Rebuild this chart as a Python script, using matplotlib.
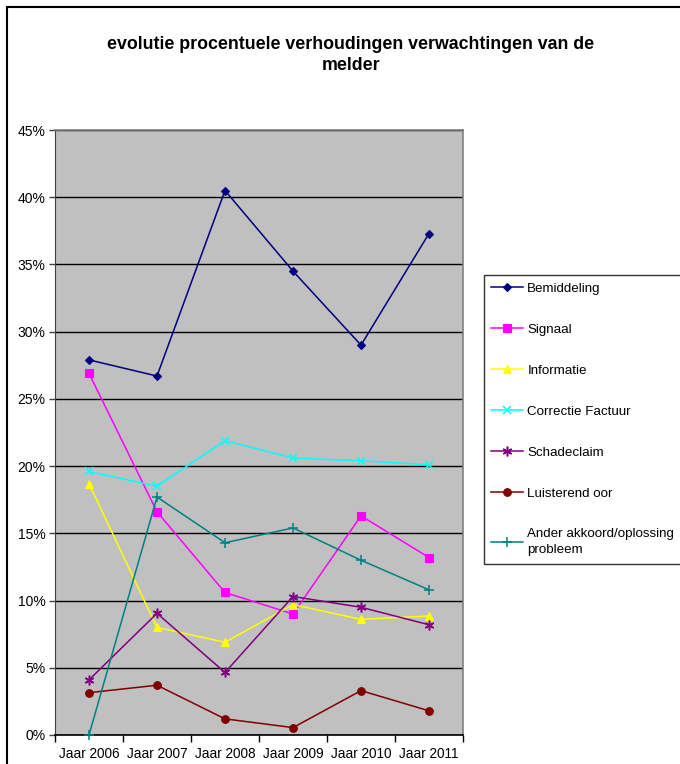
import matplotlib
matplotlib.use("Agg")
import matplotlib.pyplot as plt
from matplotlib.patches import Rectangle
from matplotlib.ticker import FixedLocator, PercentFormatter

plt.rcParams['font.family'] = ['Liberation Sans', 'DejaVu Sans']

years = ["Jaar 2006", "Jaar 2007", "Jaar 2008", "Jaar 2009", "Jaar 2010", "Jaar 2011"]

bemiddeling = [27.9, 26.7, 40.5, 34.5, 29.0, 37.3]
signaal = [26.9, 16.6, 10.6, 9.0, 16.3, 13.2]
informatie = [18.7, 8.0, 6.9, 9.7, 8.6, 8.85]
correctie_factuur = [19.6, 18.5, 21.9, 20.6, 20.4, 20.1]
schadeclaim = [4.1, 9.05, 4.65, 10.3, 9.5, 8.2]
luisterend_oor = [3.15, 3.7, 1.2, 0.55, 3.3, 1.8]
ander_akkoord = [0.0, 17.7, 14.3, 15.4, 13.0, 10.8]

series = [
    ("Bemiddeling", bemiddeling, "#000080", "D", 4.2),
    ("Signaal", signaal, "#FF00FF", "s", 5.5),
    ("Informatie", informatie, "#FFFF00", "^", 6),
    ("Correctie Factuur", correctie_factuur, "#00FFFF", "x", 5.5),
    ("Schadeclaim", schadeclaim, "#800080", (6, 2, 0), 7),
    ("Luisterend oor", luisterend_oor, "#800000", "o", 5.5),
    ("Ander akkoord/oplossing\nprobleem", ander_akkoord, "#008080", "+", 7),
]

fig = plt.figure(figsize=(6.8, 7.64), dpi=100)
ax = fig.add_axes([55 / 680, 29 / 764, 408 / 680, 605 / 764])
ax.set_facecolor("#C0C0C0")

x = list(range(len(years)))
for label, vals, color, marker, ms in series:
    ax.plot(x, vals, color=color, marker=marker, markersize=ms, linewidth=1.1,
            markeredgewidth=1.1 if marker in ("x", "+", (6, 2, 0)) else 0.8,
            markeredgecolor=color, label=label, clip_on=False, zorder=3)

ax.set_xlim(-0.5, len(years) - 0.5)
ax.set_ylim(0, 45)
ax.set_yticks(range(0, 50, 5))
ax.yaxis.set_major_formatter(PercentFormatter(decimals=0))
ax.yaxis.grid(True, color="black", linewidth=1.0)
ax.set_axisbelow(True)

# category labels between boundary ticks
ax.xaxis.set_major_locator(FixedLocator([i - 0.5 for i in range(len(years) + 1)]))
ax.xaxis.set_minor_locator(FixedLocator(x))
ax.set_xticklabels([])
ax.set_xticklabels(years, minor=True)
ax.tick_params(axis="x", which="major", length=5, width=1, color="black", direction="out")
ax.tick_params(axis="x", which="minor", length=0, labelsize=9.8, pad=8.5)
ax.tick_params(axis="y", length=4, width=1, color="#404040", labelsize=10, pad=3)

for side in ("top", "right"):
    ax.spines[side].set_color("#808080")
    ax.spines[side].set_linewidth(1.2)
ax.spines["left"].set_color("#404040")
ax.spines["bottom"].set_color("black")
ax.spines["bottom"].set_linewidth(1.2)

fig.text(351 / 680, 1 - 55 / 764,
         "evolutie procentuele verhoudingen verwachtingen van de\nmelder",
         ha="center", va="center", fontsize=12.8, fontweight="bold", linespacing=1.3)

leg = fig.legend(loc="upper left", bbox_to_anchor=(484 / 680, 1 - 275 / 764),
                 frameon=True, fancybox=False, edgecolor="black", fontsize=9.6,
                 labelspacing=2.15, handlelength=2.4, handletextpad=0.3,
                 borderpad=0.55, borderaxespad=0)
leg.get_frame().set_linewidth(1.0)
leg.get_texts()[-1].set_linespacing(1.45)

# outer chart border
fig.patches.append(Rectangle((7 / 680, -0.05), 1.2, 1 - 7 / 764 + 0.05,
                             transform=fig.transFigure, fill=False,
                             edgecolor="black", linewidth=1.5))

fig.savefig("out.png", dpi=100)
